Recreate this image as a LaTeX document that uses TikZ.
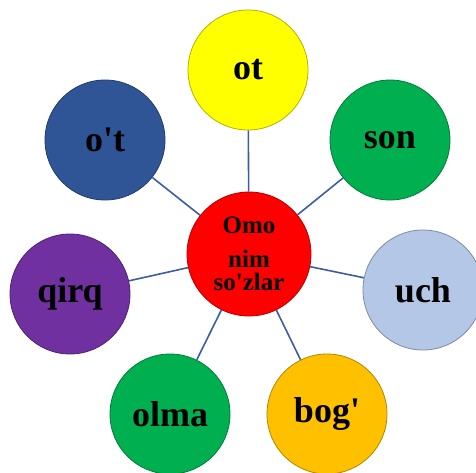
\documentclass[tikz,border=0pt]{standalone}
\usepackage{fontspec}
\setmainfont{Liberation Serif}
\definecolor{otyellow}{HTML}{FFFF00}
\definecolor{songreen}{HTML}{00B050}
\definecolor{uchblue}{HTML}{B4C7E7}
\definecolor{bogorange}{HTML}{FFC000}
\definecolor{qirqpurple}{HTML}{7030A0}
\definecolor{otblue}{HTML}{2F5597}
\definecolor{omored}{HTML}{FF0000}
\definecolor{linkblue}{HTML}{3B5DA5}
\newcommand{\ap}{\textquotesingle}
\begin{document}
\begin{tikzpicture}[x=1pt,y=-1pt,
  word/.style={circle,draw=#1!70!black,fill=#1,line width=0.8pt,minimum size=120pt,inner sep=0pt,
    font=\fontsize{36}{36}\selectfont\bfseries},
  link/.style={draw=linkblue,line width=1.6pt}]
\useasboundingbox (0,0) rectangle (476,472);
% centre
\node[word=omored,minimum size=124pt,align=center,font=\fontsize{25}{23}\selectfont\bfseries] (omo) at (249,254) {Omo\\[11pt]nim\\so\ap zlar};
% words round it
\node[word=otyellow] (ot) at (248,70) {ot};
\node[word=songreen] (son) at (390,140) {son};
\node[word=uchblue] (uch) at (423,290) {uch};
\node[word=bogorange] (bog) at (327,414) {bog\ap};
\node[word=songreen] (olma) at (170,414) {olma};
\node[word=qirqpurple] (qirq) at (70,294) {qirq};
\node[word=otblue] (ot2) at (105,140) {o\ap t};
% links
\foreach \w in {ot,son,uch,bog,olma,qirq,ot2}
  \draw[link] (omo) -- (\w);
\end{tikzpicture}
\end{document}
